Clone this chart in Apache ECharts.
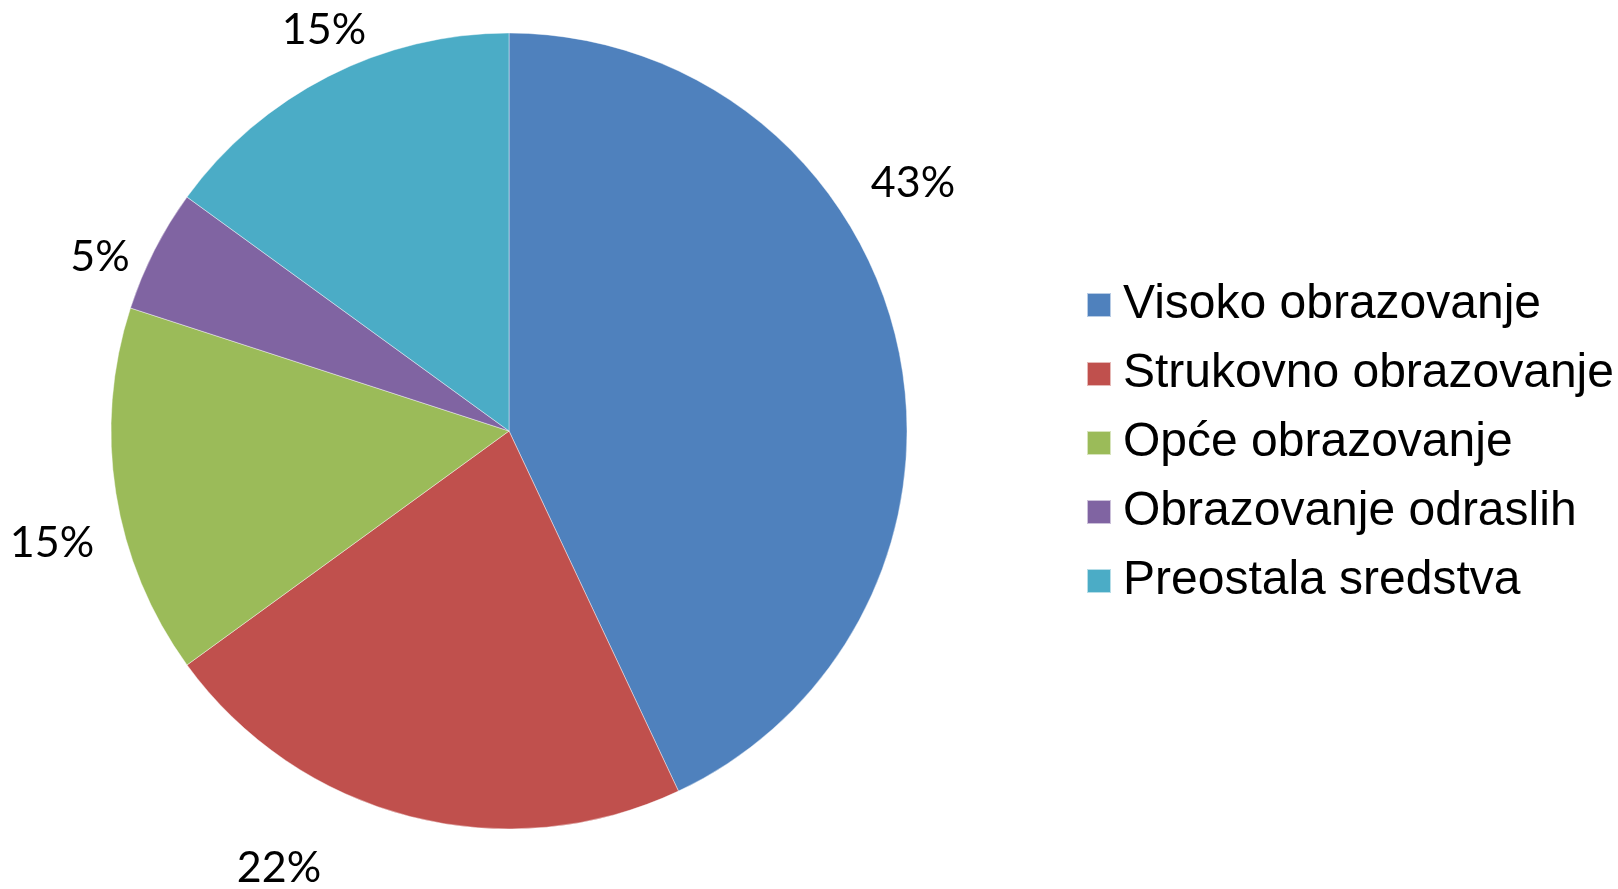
<!DOCTYPE html>
<html>
<head>
<meta charset="utf-8">
<script src="https://cdn.jsdelivr.net/npm/echarts@6/dist/echarts.min.js"></script>
<style>
html,body{margin:0;padding:0;background:#fff;}
#chart{width:1618px;height:889px;}
</style>
</head>
<body>
<div id="chart"></div>
<script>
const categories = ['Visoko obrazovanje','Strukovno obrazovanje','Opće obrazovanje','Obrazovanje odraslih','Preostala sredstva'];
const values = [43, 22, 15, 5, 15];
const colors = ['#4F81BD','#C0504D','#9BBB59','#8064A2','#4BACC6'];

// label anchor points (text placement only)
const labelPos = [[913,183],[279,868],[52,543],[100,257],[324,30]];

const chart = echarts.init(document.getElementById('chart'));
chart.setOption({
  backgroundColor: '#ffffff',
  animation: false,
  color: colors,
  legend: {
    orient: 'vertical',
    left: 1081,
    top: 274,
    itemWidth: 24,
    itemHeight: 24,
    itemGap: 17,
    icon: 'rect',
    textStyle: {
      fontFamily: 'Liberation Sans, Arial, sans-serif',
      fontSize: 48,
      color: '#000',
      lineHeight: 52,
      padding: [0,0,0,7]
    },
    data: categories
  },
  series: [{
    type: 'pie',
    center: [509, 431],
    radius: [0, 398],
    startAngle: 90,
    clockwise: true,
    data: categories.map((c,i)=>({name:c, value: values[i]})),
    itemStyle: { borderColor: 'rgba(255,255,255,0.6)', borderWidth: 0.7 },
    label: {
      show: true,
      position: 'outside',
      overflow: 'none',
      formatter: p => Math.round(p.value) + '%',
      fontFamily: 'Lato, sans-serif',
      fontSize: 43,
      color: '#000'
    },
    labelLine: { show: false },
    labelLayout: function (params) {
      const p = labelPos[params.dataIndex];
      return { x: p[0], y: p[1], align: 'center', verticalAlign: 'middle', hideOverlap: false };
    },
    emphasis: { disabled: true }
  }]
});
</script>
</body>
</html>
